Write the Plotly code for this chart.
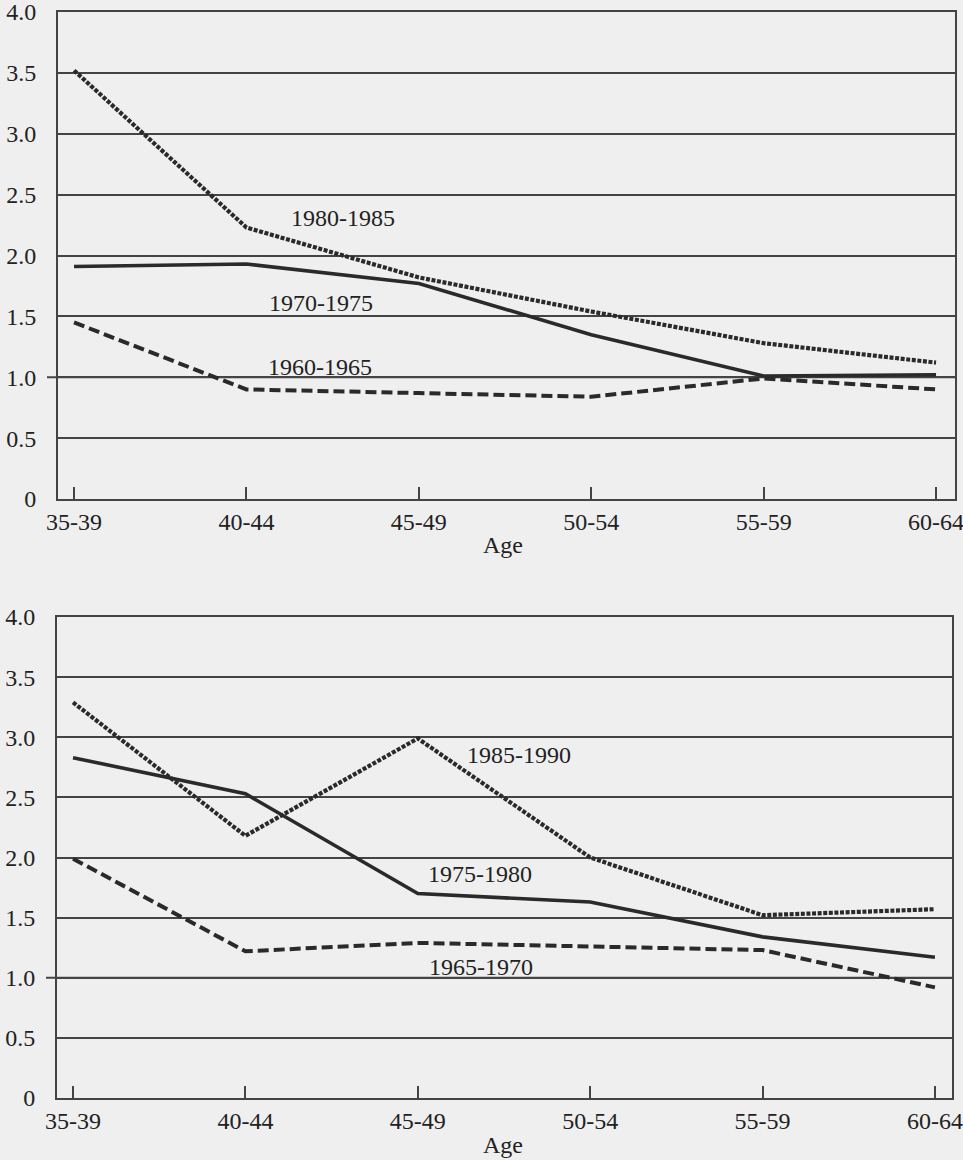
import plotly.graph_objects as go

W, H = 963, 1160

age_groups = ["35-39", "40-44", "45-49", "50-54", "55-59", "60-64"]
y_tick_vals = [0, 0.5, 1.0, 1.5, 2.0, 2.5, 3.0, 3.5, 4.0]
y_tick_text = ["0", "0.5", "1.0", "1.5", "2.0", "2.5", "3.0", "3.5", "4.0"]

# Top panel
p1960_1965 = [1.45, 0.90, 0.87, 0.84, 0.99, 0.90]
p1970_1975 = [1.91, 1.93, 1.77, 1.35, 1.01, 1.02]
p1980_1985 = [3.52, 2.23, 1.82, 1.54, 1.28, 1.12]

# Bottom panel
p1965_1970 = [1.99, 1.22, 1.29, 1.26, 1.23, 0.92]
p1975_1980 = [2.83, 2.53, 1.70, 1.63, 1.34, 1.17]
p1985_1990 = [3.29, 2.18, 2.99, 2.00, 1.52, 1.57]

INK = "#2a2a2a"
GRID = "#444444"
TXT = "#222222"
FONT = "Liberation Serif"
BG = "#efefef"

DASH_LONG = "11px,5px"
DASH_DOT = "4px,1.6px"

fig = go.Figure()

def add(vals, name, dash, width, xa, ya):
    fig.add_trace(go.Scatter(
        x=age_groups, y=vals, name=name, mode="lines",
        line=dict(color=INK, width=width, dash=dash),
        xaxis=xa, yaxis=ya, showlegend=False))

add(p1960_1965, "1960-1965", DASH_LONG, 4, "x", "y")
add(p1970_1975, "1970-1975", "solid", 3.6, "x", "y")
add(p1980_1985, "1980-1985", DASH_DOT, 4.2, "x", "y")
add(p1965_1970, "1965-1970", DASH_LONG, 4, "x2", "y2")
add(p1975_1980, "1975-1980", "solid", 3.6, "x2", "y2")
add(p1985_1990, "1985-1990", DASH_DOT, 4.2, "x2", "y2")

def px_x(px):
    return px / W

def px_y(py):
    return 1 - py / H

xcommon = dict(
    type="category", categoryorder="array", categoryarray=age_groups,
    showline=True, mirror=True, linecolor=GRID, linewidth=2,
    ticks="inside", ticklen=12, tickwidth=1.6, tickcolor=GRID,
    showgrid=False, zeroline=False, automargin=False,
    tickfont=dict(family=FONT, size=24, color=TXT),
    ticklabelstandoff=0, ticklabeloverflow="allow",
)
ycommon = dict(
    range=[0, 4], tickvals=y_tick_vals, ticktext=y_tick_text,
    showline=True, mirror=True, linecolor=GRID, linewidth=2,
    showgrid=True, gridcolor=GRID, gridwidth=1.8,
    ticks="", zeroline=False, automargin=False,
    tickfont=dict(family=FONT, size=24, color=TXT),
    ticklabelstandoff=15, ticklabeloverflow="allow",
)

fig.update_layout(
    width=W, height=H,
    margin=dict(l=0, r=0, t=0, b=0, autoexpand=False),
    paper_bgcolor=BG, plot_bgcolor=BG,
    xaxis=dict(domain=[px_x(58), px_x(955)], anchor="y",
               range=[-0.093, 5.11], **xcommon),
    yaxis=dict(domain=[px_y(499), px_y(12)], anchor="x", **ycommon),
    xaxis2=dict(domain=[px_x(57), px_x(952)], anchor="y2",
                range=[-0.093, 5.099], **xcommon),
    yaxis2=dict(domain=[px_y(1098), px_y(617)], anchor="x2", **ycommon),
)

# extended 1.0 reference line
for xa_left, xa_right, yref in [(47, 955, "y"), (46, 952, "y2")]:
    fig.add_shape(type="line", xref="paper", yref=yref,
                  x0=px_x(xa_left), x1=px_x(xa_right), y0=1.0, y1=1.0,
                  line=dict(color=GRID, width=2), layer="below")

labels = [
    ("1980-1985", 343, 218), ("1970-1975", 321, 303), ("1960-1965", 320, 367),
    ("1985-1990", 519, 755), ("1975-1980", 480, 874), ("1965-1970", 481, 967),
    ("Age", 503, 545), ("Age", 503, 1145),
]
for text, x, y in labels:
    fig.add_annotation(text=text, xref="paper", yref="paper",
                       x=px_x(x), y=px_y(y), xanchor="center", yanchor="middle",
                       showarrow=False,
                       font=dict(family=FONT, size=24, color=TXT))

fig.write_html("out.html",
               config={"displayModeBar": False},
               post_script="document.body.style.margin='0';document.body.style.overflow='hidden';")
